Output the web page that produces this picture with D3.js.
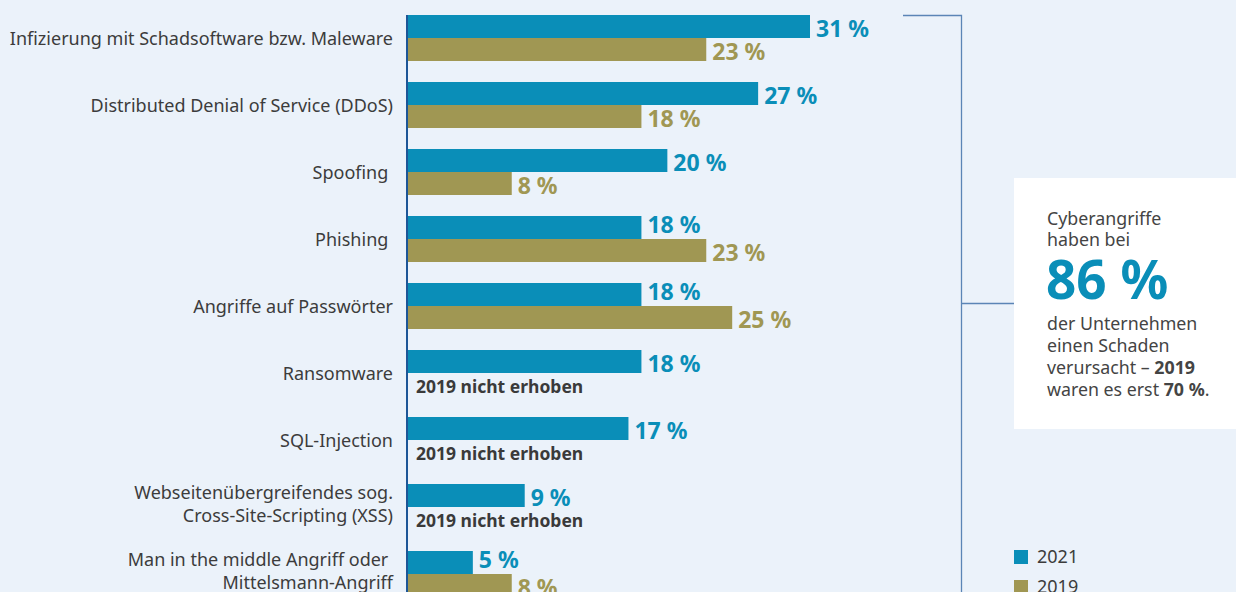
<!DOCTYPE html>
<html>
<head>
<meta charset="utf-8">
<script src="https://cdn.jsdelivr.net/npm/d3@7"></script>
<style>
  html, body { margin: 0; padding: 0; background: #ebf2fa; }
  svg { display: block; font-family: "Noto Sans", sans-serif; }
</style>
</head>
<body>
<div id="chart"></div>
<script>
// categories (label lines) and values
const categories = [
    ["Infizierung mit Schadsoftware bzw. Maleware"],
    ["Distributed Denial of Service (DDoS)"],
    ["Spoofing "],
    ["Phishing "],
    ["Angriffe auf Passwörter"],
    ["Ransomware"],
    ["SQL-Injection"],
    ["Webseitenübergreifendes sog.", "Cross-Site-Scripting (XSS)"],
    ["Man in the middle Angriff oder ", "Mittelsmann-Angriff"]
]
const values2021 = [31, 27, 20, 18, 18, 18, 17, 9, 5]
const values2019 = [23, 18, 8, 23, 25, null, null, null, 8]
const seriesNames = ["2021", "2019"]
const seriesColours = ["#0a8eb8", "#a09753"]
const missingText = "2019 nicht erhoben"

const width = 1236
const height = 592

let svg = d3.select("#chart")
    .append("svg")
        .attr("width", width)
        .attr("height", height)

svg.append("rect")
    .attr("width", width)
    .attr("height", height)
    .attr("fill", "#ebf2fa")

let keys = categories.map(function(c, i){ return "c" + i })

//set the scales
let y = d3.scaleBand()
    .domain(keys)
    .range([15, 597])
    .paddingInner(21/67)
    .paddingOuter(0)

let ySub = d3.scaleBand()
    .domain(seriesNames)
    .range([0, y.bandwidth()])

let x = d3.scaleLinear()
    .domain([0, 31])
    .range([408, 810])

let colour = d3.scaleOrdinal()
    .domain(seriesNames)
    .range(seriesColours)

let rows = keys.map(function(k, i){
    return {key: k, label: categories[i], v2021: values2021[i], v2019: values2019[i]}
})

let groups = svg.selectAll("g.group")
    .data(rows)
    .join("g")
    .attr("class", "group")
    .attr("transform", function(d){ return `translate(0, ${y(d.key)})` })

//bars
groups.each(function(d){
    let g = d3.select(this)
    let pairs = [["2021", d.v2021], ["2019", d.v2019]]
    pairs.forEach(function(p){
        let yy = ySub(p[0])
        if (p[1] === null) {
            g.append("text")
                .attr("x", 416)
                .attr("y", yy + ySub.bandwidth() - 3)
                .attr("fill", "#3a3a3a")
                .attr("font-size", 17.5)
                .attr("font-weight", "bold")
                .text(missingText)
            return
        }
        g.append("rect")
            .attr("x", x(0))
            .attr("y", yy)
            .attr("width", x(p[1]) - x(0))
            .attr("height", ySub.bandwidth())
            .attr("fill", colour(p[0]))
        // lift the 2021 label when the 2019 bar below reaches under it
        let lift = (p[0] === "2021" && d.v2019 !== null && d.v2019 > d.v2021) ? 6 : 1
        g.append("text")
            .attr("x", x(p[1]) + 6)
            .attr("y", yy + ySub.bandwidth() - lift)
            .attr("fill", colour(p[0]))
            .attr("font-size", 23)
            .attr("font-weight", "bold")
            .text(p[1] + " %")
    })

    //category label
    let label = g.append("text")
        .attr("text-anchor", "end")
        .attr("fill", "#3c3c3c")
        .attr("font-size", 18)
        .style("white-space", "pre")
    if (d.label.length === 1) {
        label.append("tspan")
            .attr("x", 393)
            .attr("y", y.bandwidth() / 2 + 7)
            .text(d.label[0])
    } else {
        d.label.forEach(function(line, j){
            label.append("tspan")
                .attr("x", 393)
                .attr("y", y.bandwidth() / 2 - 8 + j * 23)
                .text(line)
        })
    }
})

//axis line
svg.append("line")
    .attr("x1", 407).attr("x2", 407)
    .attr("y1", 15).attr("y2", height)
    .attr("stroke", "#1d5697")
    .attr("stroke-width", 2)

//bracket to the info box
let bracket = "#5b85b6"
svg.append("path")
    .attr("d", "M903,15.5 H961.5 V592 M961.5,303.5 H1014")
    .attr("fill", "none")
    .attr("stroke", bracket)
    .attr("stroke-width", 1.3)

//info box
svg.append("rect")
    .attr("x", 1014)
    .attr("y", 178)
    .attr("width", 230)
    .attr("height", 251)
    .attr("fill", "#ffffff")

let info = svg.append("g")
    .attr("fill", "#444444")
    .attr("font-size", 17.8)

let infoLines = [
    {y: 225, parts: [["Cyberangriffe", "normal"]]},
    {y: 246, parts: [["haben bei", "normal"]]},
    {y: 330, parts: [["der Unternehmen", "normal"]]},
    {y: 352, parts: [["einen Schaden", "normal"]]},
    {y: 374, parts: [["verursacht – ", "normal"], ["2019", "bold"]]},
    {y: 396, parts: [["waren es erst ", "normal"], ["70 %", "bold"], [".", "normal"]]}
]
infoLines.forEach(function(l){
    let t = info.append("text")
        .attr("x", 1047)
        .attr("y", l.y)
        .style("white-space", "pre")
    l.parts.forEach(function(p){
        t.append("tspan").attr("font-weight", p[1]).text(p[0])
    })
})

info.append("text")
    .attr("x", 1046)
    .attr("y", 299)
    .attr("fill", "#0a8eb8")
    .attr("font-size", 53)
    .attr("font-weight", "bold")
    .text("86 %")

//legend
let legend = svg.selectAll("g.legend")
    .data(seriesNames)
    .join("g")
    .attr("class", "legend")
    .attr("transform", function(d, i){ return `translate(1014, ${550 + i * 30})` })

legend.append("rect")
    .attr("width", 14)
    .attr("height", 14)
    .attr("fill", function(d){ return colour(d) })

legend.append("text")
    .attr("x", 23)
    .attr("y", 13)
    .attr("fill", "#3c3c3c")
    .attr("font-size", 18)
    .text(function(d){ return d })
</script>
</body>
</html>
